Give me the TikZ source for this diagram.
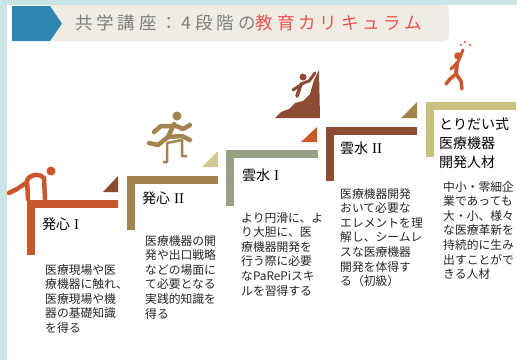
\documentclass[tikz,border=0pt]{standalone}
\usepackage{fontspec}
\setmainfont{Noto Sans CJK JP}
\newfontfamily\titlefont[LetterSpace=22]{Noto Sans CJK JP}
\newfontfamily\numfont{Liberation Serif}
\newcommand{\stepnum}[1]{\hspace{4pt}{\numfont\fontsize{15}{19}\selectfont #1}}

\definecolor{frameteal}{HTML}{C9E5E5}
\definecolor{titlebg}{HTML}{EFEDE3}
\definecolor{titleblue}{HTML}{2E87B3}
\definecolor{titlegray}{HTML}{7F7F7F}
\definecolor{titlered}{HTML}{F05252}
\definecolor{hosshinA}{HTML}{C9572B}
\definecolor{hosshinB}{HTML}{A3844E}
\definecolor{unsuiA}{HTML}{96A283}
\definecolor{unsuiB}{HTML}{8C4B33}
\definecolor{jinzai}{HTML}{C8C07E}
\definecolor{desctext}{HTML}{262626}

\begin{document}
\begin{tikzpicture}[x=1pt,y=-1pt,
    pict/.style={line width=4.5pt, line cap=round, line join=round},
    steplabel/.style={anchor=west, inner sep=0pt, font=\fontsize{14}{19}\selectfont, text=black},
    stepdesc/.style={anchor=north west, inner sep=0pt, align=left, font=\fontsize{11.8}{14.6}\selectfont, text=desctext}]
    \useasboundingbox (0,0) rectangle (517,360);
    \fill[white] (0,0) rectangle (517,360);
    \fill[frameteal] (0,0) rectangle (517,5);
    \fill[frameteal] (0,0) rectangle (7,360);

    \fill[titlebg, rounded corners=4pt] (12,5) rectangle (449,41);
    \fill[titleblue] (12,6) -- (50,6) -- (62,23.5) -- (50,41) -- (12,41) -- cycle;
    \node[anchor=west, inner sep=0pt, font=\titlefont\fontsize{17.5}{17.5}\selectfont] (title) at (75,23)
        {\textcolor{titlegray}{共学講座：4段階の}\textcolor{titlered}{教育カリキュラム}};

    \fill[hosshinA] (27,200) rectangle (118,208);
    \fill[hosshinA] (27,200) rectangle (35,255);
    \fill[unsuiB] (103,192) -- (118,192) -- (118,176) -- cycle;
    \node[steplabel] (step1) at (42,224) {発心\stepnum{I}};
    \node[stepdesc] (desc1) at (45,264) {医療現場や医\\療機器に触れ、\\医療現場や機\\器の基礎知識\\を得る};

    \fill[hosshinB] (127,176) rectangle (218,184);
    \fill[hosshinB] (127,176) rectangle (135,230);
    \fill[jinzai!85!white] (202,167) -- (218,167) -- (218,151) -- cycle;
    \node[steplabel] (step2) at (142,198) {発心\stepnum{II}};
    \node[stepdesc] (desc2) at (145,235) {医療機器の開\\発や出口戦略\\などの場面に\\て必要となる\\実践的知識を\\得る};

    \fill[unsuiA] (226,150) rectangle (318,158);
    \fill[unsuiA] (226,150) rectangle (234,206);
    \fill[hosshinA!95!orange] (301,142) -- (317,142) -- (317,127) -- cycle;
    \node[steplabel] (step3) at (242,175) {雲水\stepnum{I}};
    \node[stepdesc] (desc3) at (241,212) {より円滑に、よ\\り大胆に、医\\療機器開発を\\行う際に必要\\なPaRePiスキ\\ルを習得する};

    \fill[unsuiB] (326,127) rectangle (417,135);
    \fill[unsuiB] (326,127) rectangle (334,181);
    \fill[hosshinB] (401,118) -- (417,118) -- (417,102) -- cycle;
    \node[steplabel] (step4) at (340,148) {雲水\stepnum{II}};
    \node[stepdesc] (desc4) at (340,188) {医療機器開発\\おいて必要な\\エレメントを理\\解し、シームレ\\スな医療機器\\開発を体得す\\る（初級）};

    \fill[jinzai] (426,102) rectangle (516,110);
    \fill[jinzai] (426,102) rectangle (434,157);
    \node[steplabel, anchor=north west, align=left] (step5) at (439,118) {とりだい式\\医療機器\\開発人材};
    \node[stepdesc] (desc5) at (443,181) {中小・零細企\\業であっても\\大・小、様々\\な医療革新を\\持続的に生み\\出すことがで\\きる人材};

    \fill[hosshinA] (51,171) circle (4.5);
    \draw[pict, hosshinA] (28,199) -- (27,180) .. controls (30,174) and (40,173) .. (44,178) -- (45,199);
    \draw[pict, hosshinA] (26,183) -- (17,189) -- (9,193);

    \fill[hosshinB] (177,116) circle (4.5);
    \draw[pict, hosshinB] (174,124) -- (168,137);
    \draw[pict, hosshinB] (172,126) -- (161,126) -- (154,132);
    \draw[pict, hosshinB] (174,125) -- (183,129) -- (190,125);
    \draw[pict, hosshinB] (168,137) -- (182,136) -- (190,140);
    \draw[pict, hosshinB] (168,137) -- (158,145) -- (149,143);
    \draw[hosshinB, line width=2.5pt, line join=round] (163,162) -- (167,162) -- (167,143) -- (182,140) -- (182,156) -- (187,156);

    \fill[unsuiB] (275,118) -- (281,112) -- (289,109) -- (295,103) -- (303,101) -- (310,94) -- (314,80) -- (319,70) -- (320,118) -- cycle;
    \fill[unsuiB] (303,77) circle (3.5);
    \draw[pict, unsuiB, line width=3.5pt] (301,84) -- (297,96);
    \draw[pict, unsuiB, line width=3pt] (301,84) -- (309,81) -- (315,73);
    \draw[pict, unsuiB, line width=3pt] (299,86) -- (293,90);

    \fill[hosshinA] (458,56) circle (3.8);
    \draw[pict, hosshinA, line width=4pt] (457,63) -- (456,74);
    \draw[pict, hosshinA, line width=3pt] (458,62) -- (463,50);
    \draw[pict, hosshinA, line width=3pt] (456,64) -- (451,69);
    \draw[pict, hosshinA, line width=3.5pt] (456,74) -- (450,79) -- (446,84);
    \draw[pict, hosshinA, line width=3.5pt] (456,74) -- (461,81) -- (462,89);
    \fill[hosshinA] (461,45) circle (1.2) (465,42) circle (1.2) (470,45) circle (1.2);
\end{tikzpicture}
\end{document}
